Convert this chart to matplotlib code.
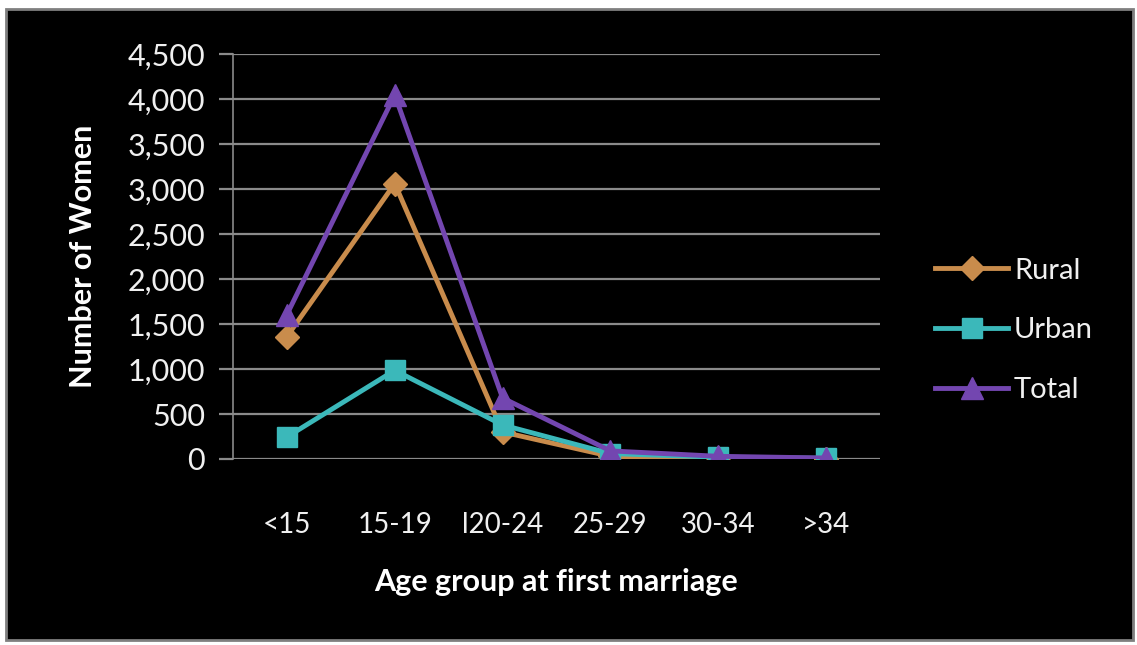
import matplotlib
matplotlib.use("Agg")
import matplotlib.pyplot as plt
from matplotlib.patches import Rectangle
from matplotlib.ticker import FuncFormatter, MultipleLocator

categories = ["<15", "15-19", "l20-24", "25-29", "30-34", ">34"]
rural = [1360, 3060, 300, 30, 10, 3]
urban = [245, 985, 378, 60, 20, 8]
total = [1605, 4045, 678, 90, 30, 11]

plt.rcParams['font.family'] = ['Lato', 'DejaVu Sans']

fig = plt.figure(figsize=(11.37, 6.45), dpi=100)
fig.patch.set_facecolor("white")

# dark panel with grey frame
fig.patches.append(Rectangle((6 / 1137, 1 - 640 / 645), 1127 / 1137, 631 / 645,
                             transform=fig.transFigure, facecolor="black",
                             edgecolor="#7f7f7f", linewidth=2, zorder=-10))

ax = fig.add_axes([233 / 1137, 1 - 459 / 645, 647 / 1137, 405 / 645])
ax.set_facecolor("black")
ax.patch.set_alpha(0)

x = list(range(len(categories)))
ax.plot(x, rural, color="#C98C4C", lw=3.5, marker="D", ms=12, label="Rural", zorder=3)
ax.plot(x, urban, color="#3BB8BA", lw=3.5, marker="s", ms=15, label="Urban", zorder=4)
ax.plot(x, total, color="#7346B0", lw=3.5, marker="^", ms=16, label="Total", zorder=5)

ax.set_xlim(-0.5, len(categories) - 0.5)
ax.set_ylim(0, 4500)
ax.yaxis.set_major_locator(MultipleLocator(500))
ax.yaxis.set_major_formatter(FuncFormatter(lambda v, p: f"{int(v):,}"))
ax.grid(axis="y", color="#8a8a8a", lw=1.6)
ax.set_axisbelow(True)

for s in ["top", "right", "bottom"]:
    ax.spines[s].set_visible(False)
ax.spines["left"].set_color("#8a8a8a")
ax.spines["left"].set_linewidth(1.2)

ax.set_xticks(x)
ax.set_xticklabels(categories)
ax.tick_params(axis="x", length=0, pad=38, colors="#f0f0f0", labelsize=20)
ax.tick_params(axis="y", length=10, width=1.6, pad=10,
               colors="#f0f0f0", labelsize=22)
ax.tick_params(axis="y", color="#8a8a8a")

ax.set_xlabel("Age group at first marriage", color="white", fontsize=22,
              fontweight="bold", labelpad=22)
ax.set_ylabel("Number of Women", color="white", fontsize=22,
              fontweight="bold", labelpad=22)

leg = ax.legend(loc="center left", bbox_to_anchor=(1.045, 0.318), frameon=False,
                labelcolor="#f0f0f0", fontsize=21, handlelength=2.5,
                handletextpad=0.2, labelspacing=1.15)

fig.savefig("out.png", dpi=100, facecolor="white")
